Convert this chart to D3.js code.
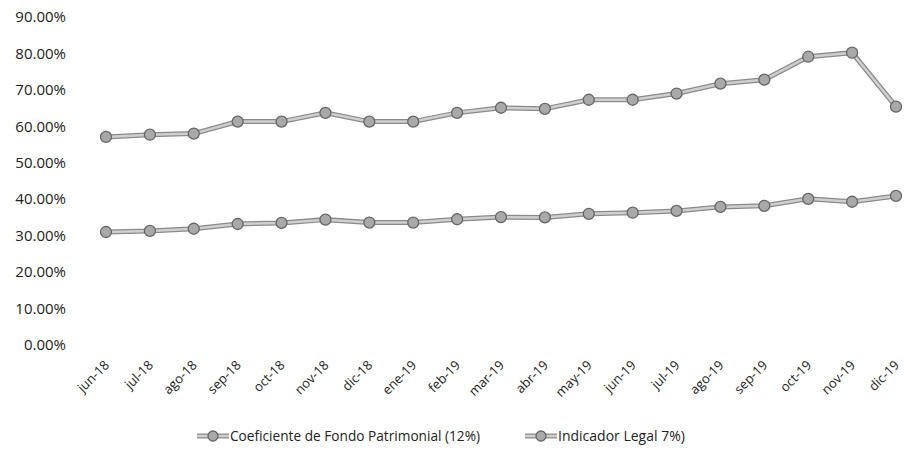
<!DOCTYPE html>
<meta charset="utf-8">
<script src="https://d3js.org/d3.v7.min.js"></script>
<style>
body { margin: 0; background: #fff; }
text { font-family: "Liberation Sans Narrow", "Open Sans", sans-serif; fill: #222; }
</style>
<body>
<script>
var months = ["jun-18","jul-18","ago-18","sep-18","oct-18","nov-18","dic-18","ene-19","feb-19","mar-19",
  "abr-19","may-19","jun-19","jul-19","ago-19","sep-19","oct-19","nov-19","dic-19"];
var coeficiente = [57.1,57.7,58.0,61.3,61.3,63.7,61.3,61.3,63.7,65.1,64.8,67.3,67.3,69.0,71.7,72.8,79.1,80.2,65.4];
var indicador = [31.0,31.3,31.9,33.2,33.5,34.4,33.6,33.6,34.5,35.1,35.0,36.0,36.3,36.8,37.9,38.2,40.1,39.3,40.9];
var yTicks = [0,10,20,30,40,50,60,70,80,90];
var seriesNames = ["Coeficiente de Fondo Patrimonial (12%)", "Indicador Legal 7%)"];

var width = 904, height = 454;
var svg = d3.select("body").append("svg").attr("width", width).attr("height", height);

var x = d3.scalePoint().domain(months).range([106, 896]);
var y = d3.scaleLinear().domain([0, 90]).range([345, 17]);

// y axis labels
svg.append("g").selectAll("text")
  .data(yTicks).enter().append("text")
  .attr("x", 66).attr("y", d => y(d)).attr("dy", "0.35em")
  .attr("text-anchor", "end").style("font-size", "15px")
  .text(d => d.toFixed(2) + "%");

// x axis labels
svg.append("g").selectAll("text")
  .data(months).enter().append("text")
  .attr("transform", d => "translate(" + (x(d) + 4) + ",366) rotate(-45)")
  .attr("text-anchor", "end").style("font-size", "13px")
  .text(d => d);

var line = d3.line().x((d, i) => x(months[i])).y(d => y(d));

function drawSeries(vals) {
  var g = svg.append("g");
  g.append("path").attr("d", line(vals)).attr("fill", "none")
    .attr("stroke", "#8a8a8a").attr("stroke-width", 5);
  g.append("path").attr("d", line(vals)).attr("fill", "none")
    .attr("stroke", "#cfcfcf").attr("stroke-width", 2.5);
  g.selectAll("circle").data(vals).enter().append("circle")
    .attr("cx", (d, i) => x(months[i])).attr("cy", d => y(d)).attr("r", 5.5)
    .attr("fill", "#a9a9a9").attr("stroke", "#666").attr("stroke-width", 1.3);
}
drawSeries(coeficiente);
drawSeries(indicador);

// legend
var legX = [197, 525];
seriesNames.forEach(function(name, i) {
  var g = svg.append("g").attr("transform", "translate(" + legX[i] + ",436)");
  g.append("line").attr("x1", 0).attr("x2", 32).attr("stroke", "#8a8a8a").attr("stroke-width", 5);
  g.append("line").attr("x1", 0).attr("x2", 32).attr("stroke", "#cfcfcf").attr("stroke-width", 2.5);
  g.append("circle").attr("cx", 16).attr("r", 5).attr("fill", "#a9a9a9").attr("stroke", "#666").attr("stroke-width", 1.3);
  g.append("text").attr("x", 33).attr("dy", "0.35em").style("font-size", "14px")
    .attr("textLength", i == 0 ? 250 : null).attr("lengthAdjust", "spacingAndGlyphs").text(name);
});
</script>
</body>
</html>
